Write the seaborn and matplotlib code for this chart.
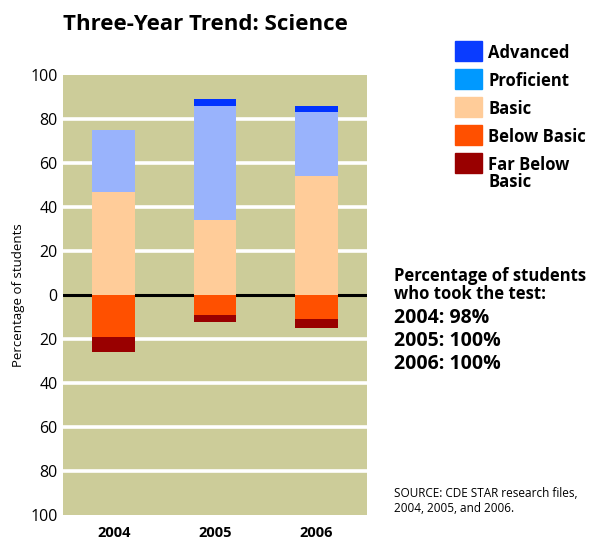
import numpy as np
import pandas as pd
import seaborn as sns
import matplotlib.pyplot as plt
from matplotlib.patches import Rectangle

years = ["2004", "2005", "2006"]
advanced = [0, 3, 3]
proficient = [28, 52, 29]
basic = [47, 34, 54]
below_basic = [19, 9, 11]
far_below_basic = [7, 3, 4]
tested = ["98%", "100%", "100%"]

levels = ["Advanced", "Proficient", "Basic", "Below Basic", "Far Below\nBasic"]
legend_colors = ["#0A3CFF", "#0099FF", "#FFCC99", "#FF5000", "#990000"]
bar_colors = {"adv": "#0033FF", "prof": "#99B3FC", "basic": "#FFCC99",
              "below": "#FF5000", "far": "#990000"}

df = pd.DataFrame({"year": years, "adv": advanced, "prof": proficient,
                   "basic": basic, "below": below_basic, "far": far_below_basic})
# cumulative tops so the stacks can be painted from the outside in
df["top_adv"] = df["basic"] + df["prof"] + df["adv"]
df["top_prof"] = df["basic"] + df["prof"]
df["top_basic"] = df["basic"]
df["bot_far"] = -(df["below"] + df["far"])
df["bot_below"] = -df["below"]

sns.set_style("white")
plt.rcParams["font.family"] = ["Open Sans", "DejaVu Sans"]
plt.rcParams["text.color"] = "black"
plt.rcParams["xtick.color"] = "black"
plt.rcParams["ytick.color"] = "black"
plt.rcParams["axes.labelcolor"] = "black"

fig = plt.figure(figsize=(5.89, 5.4), dpi=100)
ax = fig.add_axes([0.107, 0.046, 0.516, 0.815])
ax.set_facecolor("#CCCC99")

for col, c in [("top_adv", "adv"), ("top_prof", "prof"), ("top_basic", "basic"),
               ("bot_far", "far"), ("bot_below", "below")]:
    sns.barplot(data=df, x="year", y=col, color=bar_colors[c], saturation=1,
                width=0.42, ax=ax, zorder=3, errorbar=None, linewidth=0)

for v in [-80, -60, -40, -20, 20, 40, 60, 80]:
    ax.axhline(v, color="white", lw=2.6, zorder=1)
ax.axhline(0, color="black", lw=2.2, zorder=1)

ax.set_xlim(-0.5, 2.5)
ax.set_ylim(-100, 100)
ticks = np.arange(-100, 101, 20)
ax.set_yticks(ticks)
ax.set_yticklabels([str(abs(t)) for t in ticks], fontsize=11.5)
ax.set_xticks(range(3))
ax.set_xticklabels(years, fontsize=10.5, fontweight="bold")
ax.tick_params(axis="y", length=0, pad=4)
ax.tick_params(axis="x", length=0, pad=8)
ax.set_xlabel("")
ax.set_ylabel("Percentage of students", fontsize=9.5, labelpad=4)
for s in ax.spines.values():
    s.set_visible(False)

fig.text(0.107, 0.955, "Three-Year Trend: Science", fontsize=16,
         fontweight="bold", va="center", ha="left")

# legend
for i, (lab, col) in enumerate(zip(levels, legend_colors)):
    yc = 51 + i * 28
    fig.patches.append(Rectangle((455 / 589, 1 - (yc + 10) / 540), 27 / 589, 20 / 540,
                                 transform=fig.transFigure, color=col))
    fig.text(488 / 589, 1 - (yc - 7) / 540, lab, fontsize=12, fontweight="bold",
             va="top", ha="left", linespacing=0.95)

fig.text(394 / 589, 1 - 285 / 540, "Percentage of students\nwho took the test:",
         fontsize=12, fontweight="bold", va="center", ha="left", linespacing=1.0)
for i, (y, t) in enumerate(zip(years, tested)):
    fig.text(394 / 589, 1 - (318 + i * 23) / 540, f"{y}: {t}", fontsize=14,
             fontweight="bold", va="center", ha="left")

fig.text(394 / 589, 1 - 501 / 540, "SOURCE: CDE STAR research files,\n2004, 2005, and 2006.",
         fontsize=8.5, va="center", ha="left", linespacing=1.15)

fig.savefig("out.png", dpi=100)
